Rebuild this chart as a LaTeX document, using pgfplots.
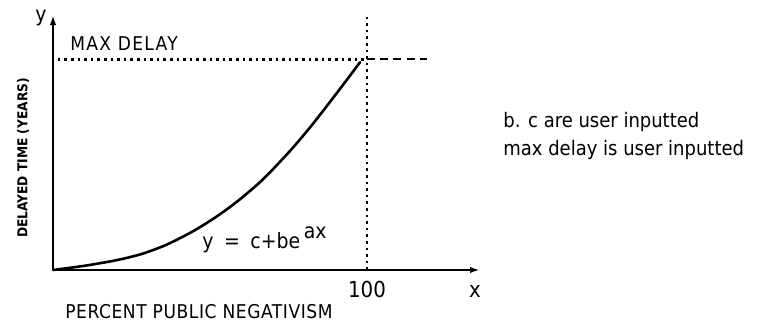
\documentclass[border=0pt]{standalone}
\usepackage{fontspec}
\setmainfont{DejaVu Sans Condensed}
\usepackage{pgfplots}
\pgfplotsset{compat=1.18}
\usetikzlibrary{arrows.meta}

\begin{document}
\begin{tikzpicture}
\useasboundingbox (0pt,0pt) rectangle (384.5pt,161.5pt);
\begin{axis}[
  at={(26.5pt,26.5pt)}, anchor=south west,
  scale only axis, width=213.5pt, height=127.5pt,
  xmin=0, xmax=136, ymin=0, ymax=121,
  axis lines=left,
  axis line style={line width=1.1pt, -{Latex[length=5pt,width=3.2pt]}},
  xtick={100}, ytick=\empty,
  major tick length=0pt,
  xticklabel style={font=\fontsize{11}{12}\selectfont, yshift=-2pt},
  /pgf/number format/assume math mode=true,
  clip=false,
]
% delay curve y = c + b e^{ax}
\addplot[line width=1.3pt, smooth, tension=0.5, line cap=round] coordinates {
  (0,0) (10,2.0) (20,4.6) (28,7.5) (36,11.9) (44,17.9) (50,23.3)
  (55,28.4) (60,34.1) (66,41.8) (71,49.3) (76.5,58.2) (82,67.9)
  (87,77.4) (92.5,88.1) (97.8,98.6)
};
% maximum delay level
\addplot[line width=1.3pt, dash pattern=on 1.3pt off 2.0pt] coordinates {(1.5,100) (100,100)};
\addplot[line width=1.2pt, dash pattern=on 4pt off 2.6pt] coordinates {(100,100) (119,100)};
% 100 percent boundary
\addplot[line width=1.3pt, dash pattern=on 1.3pt off 2.0pt] coordinates {(100,0) (100,120.5)};
\end{axis}

\node[font=\fontsize{10.5}{12}\selectfont] at (20.5pt,152.5pt) {y};
\node[font=\fontsize{9.5}{11}\selectfont\addfontfeatures{LetterSpace=7}] at (62pt,139.5pt) {MAX DELAY};
\node[anchor=base west, inner sep=0pt, font=\fontsize{10.5}{12}\selectfont] at (101pt,37.5pt)
  {y\,\,\,=\,\,\,c+be\,\raisebox{5pt}{ax}};
\node[font=\fontsize{11}{12}\selectfont] at (237.5pt,16pt) {x};
\node[font=\fontsize{9.5}{11}\selectfont\addfontfeatures{LetterSpace=3}] at (99.5pt,5.5pt) {PERCENT PUBLIC NEGATIVISM};
\node[rotate=90, font=\fontsize{6.8}{8}\selectfont\bfseries] at (11.5pt,82.5pt) {DELAYED TIME (YEARS)};
\node[anchor=base west, inner sep=0pt, font=\fontsize{10}{12}\selectfont] at (251.5pt,98pt) {b. c are user inputted};
\node[anchor=base west, inner sep=0pt, font=\fontsize{10}{12}\selectfont] at (251.5pt,84pt) {max delay is user inputted};
\end{tikzpicture}
\end{document}
